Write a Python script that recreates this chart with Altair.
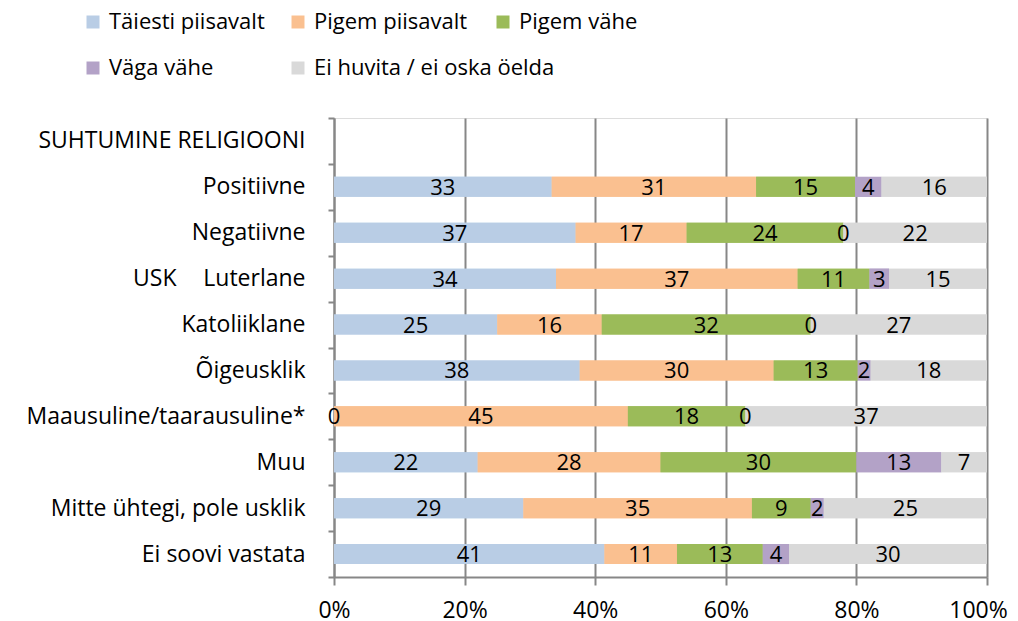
import altair as alt
import pandas as pd

# ---- data ----
categories = [
    "SUHTUMINE RELIGIOONI",
    "Positiivne",
    "Negatiivne",
    "Luterlane",
    "Katoliiklane",
    "Õigeusklik",
    "Maausuline/taarausuline*",
    "Muu",
    "Mitte ühtegi, pole usklik",
    "Ei soovi vastata",
]
rows = categories[1:]
series = ["Täiesti piisavalt", "Pigem piisavalt", "Pigem vähe", "Väga vähe",
          "Ei huvita / ei oska öelda"]
colors = ["#B9CDE5", "#FAC090", "#9BBB59", "#B3A2C7", "#D9D9D9"]

taiesti_piisavalt = [33, 37, 34, 25, 38, 0, 22, 29, 41]
pigem_piisavalt = [31, 17, 37, 16, 30, 45, 28, 35, 11]
pigem_vahe = [15, 24, 11, 32, 13, 18, 30, 9, 13]
vaga_vahe = [4, 0, 3, 0, 2, 0, 13, 2, 4]
ei_huvita = [16, 22, 15, 27, 18, 37, 7, 25, 30]

group_label = "USK"
group_row = "Luterlane"

x_ticks = [0, 0.2, 0.4, 0.6, 0.8, 1.0]

# ---- build table ----
all_vals = [taiesti_piisavalt, pigem_piisavalt, pigem_vahe, vaga_vahe, ei_huvita]
recs = []
for i, r in enumerate(rows):
    vals = [s[i] for s in all_vals]
    total = float(sum(vals))
    cum = 0.0
    for j, v in enumerate(vals):
        start = cum / total
        cum += v
        end = cum / total
        recs.append({"row": r, "series": series[j], "value": v,
                     "start": start, "end": end, "mid": (start + end) / 2,
                     "order": j})
df = pd.DataFrame(recs)
df_group = pd.DataFrame({"row": [group_row], "label": [group_label]})

FONT = "Open Sans"
GRAY = "#878787"
FS = 22

y_enc = alt.Y(
    "row:N",
    scale=alt.Scale(domain=categories, paddingInner=0, paddingOuter=0),
    sort=categories,
    axis=alt.Axis(title=None, tickBand="extent", tickSize=6, tickWidth=2,
                  tickColor=GRAY, domainColor=GRAY, domainWidth=2,
                  labelFont=FONT, labelFontSize=23, labelColor="black",
                  labelPadding=23, labelLimit=400, grid=False),
)

x_enc = alt.X(
    "start:Q",
    scale=alt.Scale(domain=[0, 1], nice=False, zero=True),
    axis=alt.Axis(title=None, format="%", values=x_ticks, grid=True,
                  gridColor=GRAY, gridWidth=2, domainColor=GRAY,
                  domainWidth=2, tickColor=GRAY, tickWidth=2, tickSize=8,
                  labelFont=FONT, labelFontSize=23, labelColor="black",
                  labelPadding=14, labelFlush=False, labelOverlap=False,
                  labelOffset={"condition": {"test": "datum.value >= 1",
                                             "value": -9},
                               "value": 0}),
)


def legend(vals, ly, cpad, ncol, align):
    return alt.Legend(
        values=vals, title=None, orient="none", legendX=-252, legendY=ly,
        direction="horizontal", columns=ncol, columnPadding=cpad,
        gridAlign=align,
        symbolType="square", symbolSize=169, symbolStrokeWidth=0,
        labelFont=FONT, labelFontSize=FS, labelColor="black",
        labelOffset=5, padding=0, labelLimit=400,
    )


color_scale = alt.Scale(domain=series, range=colors)

bars1 = alt.Chart(df).mark_bar(size=20).encode(
    x=x_enc, x2="end:Q", y=y_enc,
    color=alt.Color("series:N", scale=color_scale,
                    legend=legend(series[:3], -107, 22, 3, "all")),
)
bars2 = alt.Chart(df).mark_bar(size=20).encode(
    x=x_enc, x2="end:Q", y=y_enc,
    color=alt.Color("series:N", scale=color_scale,
                    legend=legend(series[3:], -61, 73, 2, "each")),
)
labels = alt.Chart(df).mark_text(font=FONT, fontSize=FS, color="black",
                                 baseline="middle", dy=1).encode(
    x=alt.X("mid:Q"), y=y_enc, text=alt.Text("value:Q"),
)
group = alt.Chart(df_group).mark_text(font=FONT, fontSize=23, color="black",
                                      align="left", baseline="middle").encode(
    x=alt.value(-201), y=y_enc, text="label:N",
)

chart = alt.layer(bars1, bars2, labels, group).resolve_scale(
    color="independent"
).properties(
    width=653, height=459,
    autosize=alt.AutoSizeParams(type="none"),
    padding={"left": 326, "top": 110, "right": 21, "bottom": 50},
).configure_view(stroke=None).configure(font=FONT)

chart.save("out.html", embed_options={"renderer": "svg", "actions": False})
